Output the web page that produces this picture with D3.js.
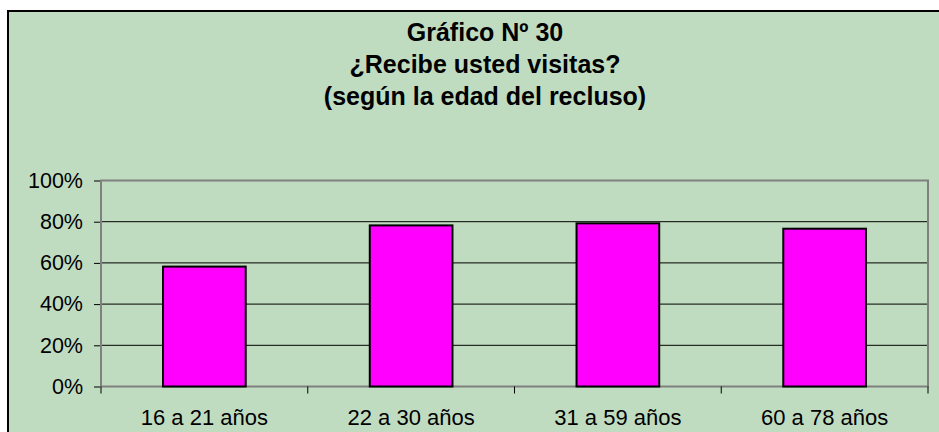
<!DOCTYPE html>
<html>
<head>
<meta charset="utf-8">
<script src="https://cdn.jsdelivr.net/npm/d3@7"></script>
<style>
  body { margin: 0; background: #fff; }
  svg { display: block; }
  text { font-family: Arial, "Liberation Sans", sans-serif; fill: #000; }
</style>
</head>
<body>
<div id="chart"></div>
<script>
const categories = ['16 a 21 años', '22 a 30 años', '31 a 59 años', '60 a 78 años'];
const visitas = [0.582, 0.782, 0.792, 0.766];
const yTicks = [0, 0.2, 0.4, 0.6, 0.8, 1];
const titleLines = ['Gráfico Nº 30', '¿Recibe usted visitas?', '(según la edad del recluso)'];

const width = 939, height = 432;
const plot = { left: 101, top: 180.5, right: 928, bottom: 386.5 };

const svg = d3.select('#chart').append('svg')
  .attr('width', width)
  .attr('height', height);

// chart area (right and bottom edges run past the picture)
svg.append('rect')
  .attr('x', 8).attr('y', 11)
  .attr('width', width + 20).attr('height', height + 20)
  .attr('fill', '#c0dcc0')
  .attr('stroke', '#000')
  .attr('stroke-width', 2);

svg.append('g')
  .selectAll('text')
  .data(titleLines)
  .enter().append('text')
  .attr('x', 485)
  .attr('y', (d, i) => 41 + i * 32)
  .attr('text-anchor', 'middle')
  .attr('font-size', 25)
  .attr('font-weight', 'bold')
  .text(d => d);

const x = d3.scaleBand()
  .domain(categories)
  .range([plot.left, plot.right])
  .paddingInner(0.6)
  .paddingOuter(0.3);

const y = d3.scaleLinear()
  .domain([0, 1])
  .range([plot.bottom, plot.top]);

// gridlines
svg.append('g')
  .selectAll('line')
  .data(yTicks.filter(t => t > 0 && t < 1))
  .enter().append('line')
  .attr('x1', plot.left).attr('x2', plot.right)
  .attr('y1', d => y(d)).attr('y2', d => y(d))
  .attr('stroke', '#000')
  .attr('stroke-width', 1);

// plot area border
svg.append('rect')
  .attr('x', plot.left).attr('y', plot.top)
  .attr('width', plot.right - plot.left)
  .attr('height', plot.bottom - plot.top)
  .attr('fill', 'none')
  .attr('stroke', '#808080')
  .attr('stroke-width', 2);

// bars
svg.append('g')
  .selectAll('rect')
  .data(categories)
  .enter().append('rect')
  .attr('x', d => x(d))
  .attr('y', (d, i) => y(visitas[i]))
  .attr('width', x.bandwidth())
  .attr('height', (d, i) => y(0) - y(visitas[i]))
  .attr('fill', '#ff00ff')
  .attr('stroke', '#000')
  .attr('stroke-width', 2);

// y axis
const yAxis = svg.append('g')
  .attr('transform', 'translate(' + (plot.left - 1) + ',0)')
  .call(d3.axisLeft(y).tickValues(yTicks).tickSize(6).tickPadding(11).tickFormat(d3.format('.0%')));
yAxis.select('.domain').remove();
yAxis.selectAll('line').attr('stroke', '#000');
yAxis.selectAll('text').attr('font-size', 21.5).attr('font-family', null);

// x axis: labels centred on bands, ticks on band boundaries
const xAxis = svg.append('g')
  .attr('transform', 'translate(0,' + plot.bottom + ')')
  .call(d3.axisBottom(x).tickSize(0).tickPadding(23));
xAxis.select('.domain').remove();
xAxis.selectAll('text').attr('font-size', 22).attr('font-family', null);

const bounds = [plot.left].concat(categories.map(d => x(d) + x.bandwidth() / 2 + x.step() / 2));
svg.append('g')
  .selectAll('line')
  .data(bounds)
  .enter().append('line')
  .attr('x1', d => d).attr('x2', d => d)
  .attr('y1', plot.bottom).attr('y2', plot.bottom + 7)
  .attr('stroke', '#000')
  .attr('stroke-width', 1);
</script>
</body>
</html>
